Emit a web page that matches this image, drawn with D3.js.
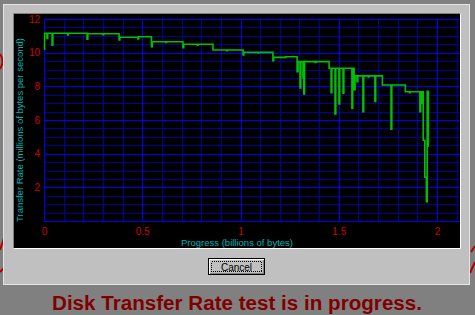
<!DOCTYPE html>
<html>
<head>
<meta charset="utf-8">
<script src="https://cdn.jsdelivr.net/npm/d3@7"></script>
<style>
  html, body { margin: 0; padding: 0; background: #808080; overflow: hidden; }
  svg { display: block; }
</style>
</head>
<body>
<div id="vis"></div>
<script>
// Readings taken off the transfer curve (drawn as steps, each value holds
// until the next reading).
// progress: billions of bytes, rate: millions of bytes per second
var progress = [
  0.000, 0.003, 0.015, 0.019, 0.041, 0.045, 0.120, 0.124, 0.219, 0.223,
  0.300, 0.304, 0.382, 0.386, 0.478, 0.482, 0.547, 0.551, 0.620, 0.624,
  0.707, 0.711, 0.780, 0.784, 0.860, 0.930, 0.934, 1.013, 1.017, 1.090,
  1.094, 1.165, 1.169, 1.230, 1.288, 1.293, 1.303, 1.307, 1.318, 1.322,
  1.326, 1.380, 1.384, 1.451, 1.461, 1.465, 1.481, 1.485, 1.501, 1.505,
  1.522, 1.526, 1.567, 1.571, 1.578, 1.583, 1.593, 1.597, 1.623, 1.627,
  1.650, 1.654, 1.684, 1.688, 1.722, 1.766, 1.770, 1.839, 1.860, 1.864,
  1.913, 1.917, 1.922, 1.926, 1.930, 1.938, 1.946, 1.950, 1.956
];
var rate = [
  10.20, 11.15, 10.85, 11.15, 10.45, 11.15, 11.05, 11.15, 10.80, 11.12,
  11.06, 11.12, 10.75, 10.92, 10.82, 10.95, 10.35, 10.65, 10.60, 10.65,
  10.30, 10.50, 10.45, 10.50, 10.16, 10.12, 10.16, 9.86, 10.02, 9.98,
  10.02, 9.52, 9.72, 9.76, 8.87, 9.47, 7.90, 9.47, 8.50, 7.55,
  9.47, 9.42, 9.47, 9.07, 7.62, 9.07, 6.36, 9.07, 6.95, 9.07,
  7.59, 9.07, 6.70, 9.07, 7.80, 8.62, 8.28, 8.62, 6.50, 8.62,
  8.56, 8.62, 7.10, 8.62, 8.08, 5.46, 8.08, 7.68, 7.62, 7.68,
  6.50, 7.68, 7.00, 7.68, 4.80, 2.60, 1.15, 7.70, 4.40
];

var xTickValues = [0, 0.5, 1, 1.5, 2];
var xTickLabels = ['0', '0.5', '1', '1.5', '2'];
var yTickValues = [2, 4, 6, 8, 10, 12];
var xTitle = 'Progress (billions of bytes)';
var yTitle = 'Transfer Rate (millions of bytes per second)';
var buttonLabel = 'Cancel';
var statusText = 'Disk Transfer Rate test is in progress.';

function transferChart() {
  var width = 475;
  var height = 315;

  // black panel the plot lives in
  var panel = { left: 14, top: 14, right: 460, bottom: 248 };
  var plot = { left: 44, right: 437, top: 19, bottom: 221 };

  var x = d3.scaleLinear().domain([0, 2]).range([plot.left, plot.right]);
  var y = d3.scaleLinear().domain([0, 12]).range([plot.bottom, plot.top]);

  var minorBlue = '#00009c';
  var majorBlue = '#0000f8';
  var tickRed = '#d00000';
  var titleCyan = '#00b4b4';
  var font = '"Liberation Sans", Arial, sans-serif';

  var chart = function chart(selector) {
    var svg = d3.select(selector)
      .append('svg')
      .attr('width', width)
      .attr('height', height);

    // desktop behind the dialog
    svg.append('rect')
      .attr('width', width)
      .attr('height', height)
      .attr('fill', '#808080');

    // bits of the red wallpaper peeking out at the edges
    var deco = svg.append('g')
      .attr('fill', 'none')
      .attr('stroke', '#b00000')
      .attr('stroke-width', 2);
    deco.append('path').attr('d', 'M0,54 Q5,61 0,69');
    deco.append('path').attr('d', 'M0,250 L4,238');
    deco.append('path').attr('d', 'M0,272 L4,268');
    deco.append('path').attr('d', 'M475,246 L471,252');
    deco.append('path').attr('d', 'M475,262 L470,273');

    // dialog body
    svg.append('rect')
      .attr('x', 3.5)
      .attr('y', 4.5)
      .attr('width', 466)
      .attr('height', 280)
      .attr('fill', '#c0c0c0')
      .attr('stroke', '#e4e4e4');

    // sunken black panel
    svg.append('rect')
      .attr('x', panel.left)
      .attr('y', panel.top)
      .attr('width', panel.right - panel.left)
      .attr('height', panel.bottom - panel.top)
      .attr('fill', '#000000');
    svg.append('path')
      .attr('d', 'M' + (panel.left - 0.5) + ',' + (panel.bottom + 0.5) +
        'V' + (panel.top - 0.5) + 'H' + (panel.right + 0.5))
      .attr('fill', 'none')
      .attr('stroke', '#808080');
    svg.append('path')
      .attr('d', 'M' + (panel.left - 0.5) + ',' + (panel.bottom + 0.5) +
        'H' + (panel.right + 0.5) + 'V' + (panel.top - 0.5))
      .attr('fill', 'none')
      .attr('stroke', '#ffffff');

    var grid = svg.append('g')
      .attr('shape-rendering', 'crispEdges');

    // vertical grid every 0.1, heavier every 0.5
    var xGrid = d3.range(0, 22).map(function (i) { return i / 10; });
    grid.selectAll('.vgrid')
      .data(xGrid)
      .enter().append('line')
      .attr('class', 'vgrid')
      .attr('x1', function (d) { return Math.round(x(d)) + 0.5; })
      .attr('x2', function (d) { return Math.round(x(d)) + 0.5; })
      .attr('y1', y(12))
      .attr('y2', y(0))
      .attr('stroke', function (d) { return (Math.round(d * 10) % 5 === 0) ? majorBlue : minorBlue; });

    // horizontal grid every 0.5, heavier every 2
    var yGrid = d3.range(0, 25).map(function (i) { return i / 2; });
    grid.selectAll('.hgrid')
      .data(yGrid)
      .enter().append('line')
      .attr('class', 'hgrid')
      .attr('x1', plot.left)
      .attr('x2', panel.right)
      .attr('y1', function (d) { return Math.round(y(d)) + 0.5; })
      .attr('y2', function (d) { return Math.round(y(d)) + 0.5; })
      .attr('stroke', function (d) { return (d % 2 === 0) ? majorBlue : minorBlue; });

    // re-draw the heavy lines on top so they are not cut by the light ones
    grid.selectAll('.vmajor')
      .data(xTickValues)
      .enter().append('line')
      .attr('x1', function (d) { return Math.round(x(d)) + 0.5; })
      .attr('x2', function (d) { return Math.round(x(d)) + 0.5; })
      .attr('y1', y(12))
      .attr('y2', y(0))
      .attr('stroke', majorBlue);

    // axes: labels only, the grid does the lines
    var yAxis = svg.append('g')
      .attr('transform', 'translate(' + plot.left + ',0)')
      .call(d3.axisLeft(y).tickValues(yTickValues).tickSize(0).tickPadding(4));

    var xAxis = svg.append('g')
      .attr('transform', 'translate(0,' + plot.bottom + ')')
      .call(d3.axisBottom(x)
        .tickValues(xTickValues)
        .tickSize(0)
        .tickPadding(7)
        .tickFormat(function (d, i) { return xTickLabels[i]; }));

    [yAxis, xAxis].forEach(function (ax) {
      ax.select('.domain').remove();
      ax.selectAll('text')
        .attr('fill', tickRed)
        .style('font-family', font)
        .style('font-size', '10px');
    });

    // the transfer curve, stepped like the instrument draws it
    var points = progress.map(function (p, i) { return [p, rate[i]]; });
    var line = d3.line()
      .curve(d3.curveStepAfter)
      .x(function (d) { return x(d[0]); })
      .y(function (d) { return y(d[1]); });

    svg.append('path')
      .datum(points)
      .attr('d', line)
      .attr('fill', 'none')
      .attr('stroke', '#00c000')
      .attr('stroke-width', 1.6);

    // axis titles
    svg.append('text')
      .attr('x', 237)
      .attr('y', 246)
      .attr('text-anchor', 'middle')
      .attr('fill', titleCyan)
      .style('font-family', font)
      .style('font-size', '9.5px')
      .text(xTitle);

    svg.append('text')
      .attr('transform', 'translate(23,130) rotate(-90)')
      .attr('text-anchor', 'middle')
      .attr('fill', titleCyan)
      .style('font-family', font)
      .style('font-size', '9.5px')
      .text(yTitle);

    // Cancel button
    var button = svg.append('g')
      .attr('shape-rendering', 'crispEdges');
    button.append('rect')
      .attr('x', 208.5).attr('y', 258.5)
      .attr('width', 56).attr('height', 16)
      .attr('fill', '#c0c0c0')
      .attr('stroke', '#000000');
    button.append('path')
      .attr('d', 'M209.5,273.5V259.5H263.5')
      .attr('fill', 'none')
      .attr('stroke', '#ffffff');
    button.append('path')
      .attr('d', 'M209.5,273.5H263.5V259.5')
      .attr('fill', 'none')
      .attr('stroke', '#808080');
    button.append('rect')
      .attr('x', 211.5).attr('y', 261.5)
      .attr('width', 50).attr('height', 10)
      .attr('fill', 'none')
      .attr('stroke', '#000000')
      .attr('stroke-dasharray', '1,1');
    button.append('text')
      .attr('x', 236.5)
      .attr('y', 270.5)
      .attr('text-anchor', 'middle')
      .attr('fill', '#000000')
      .style('font-family', font)
      .style('font-size', '10px')
      .text(buttonLabel);

    // status line under the dialog
    svg.append('text')
      .attr('x', 52)
      .attr('y', 310)
      .attr('fill', '#800000')
      .attr('textLength', 370)
      .attr('lengthAdjust', 'spacingAndGlyphs')
      .style('font-family', font)
      .style('font-weight', 'bold')
      .style('font-size', '20px')
      .text(statusText);
  };

  return chart;
}

var myTransferChart = transferChart();
myTransferChart('#vis');
</script>
</body>
</html>
